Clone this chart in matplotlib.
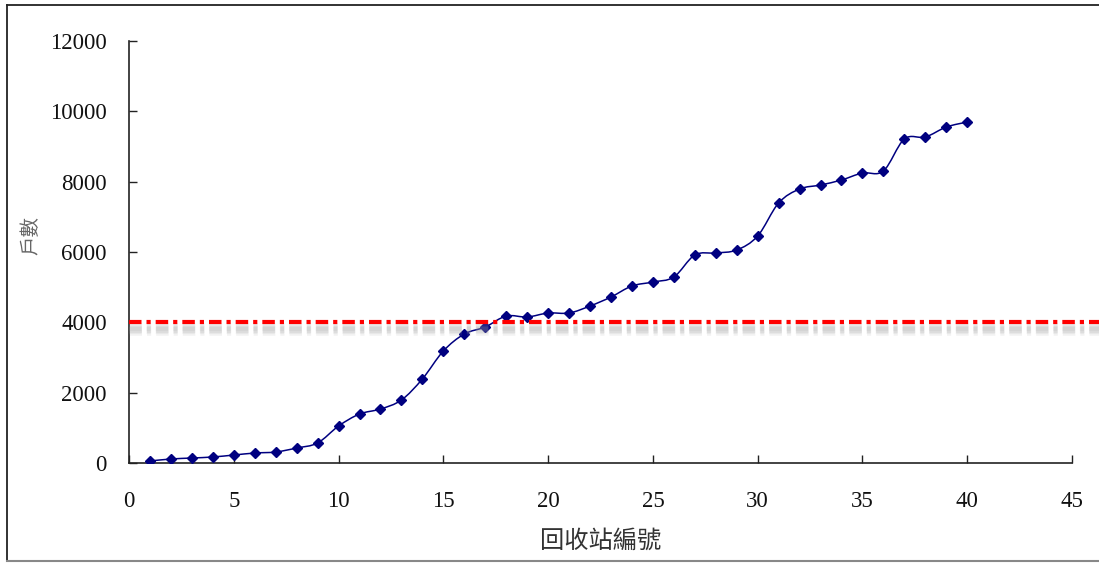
import numpy as np
from matplotlib import pyplot as plt
from matplotlib.path import Path
from matplotlib.patches import PathPatch
from matplotlib.lines import Line2D
import matplotlib.patheffects as pe

station = list(range(1, 41))
households = [
    57, 114, 142, 171, 227, 284, 313, 426, 569, 1052,
    1393, 1535, 1791, 2390, 3185, 3668, 3867, 4180, 4151, 4265,
    4265, 4464, 4720, 5033, 5146, 5289, 5914, 5971, 6056, 6454,
    7393, 7791, 7905, 8047, 8246, 8303, 9212, 9269, 9553, 9696,
]
threshold = 4000
x_ticks = [0, 5, 10, 15, 20, 25, 30, 35, 40, 45]
y_ticks = [0, 2000, 4000, 6000, 8000, 10000, 12000]

line_color = "#000080"
limit_color = "#FF0000"
tick_font = "Liberation Serif"
cjk_font = ["Noto Sans CJK TC", "DejaVu Sans"]


def smooth_path(xs, ys):
    # Excel style smoothed line: cubic bezier through every point
    pts = np.column_stack([xs, ys]).astype(float)
    verts = [pts[0]]
    codes = [Path.MOVETO]
    n = len(pts)
    for i in range(n - 1):
        p0 = pts[max(i - 1, 0)]
        p1 = pts[i]
        p2 = pts[i + 1]
        p3 = pts[min(i + 2, n - 1)]
        c1 = p1 + (p2 - p0) / 6.0
        c2 = p2 - (p3 - p1) / 6.0
        verts += [c1, c2, p2]
        codes += [Path.CURVE4] * 3
    return Path(verts, codes)


fig = plt.figure(figsize=(10.99, 5.63), dpi=100)
ax = fig.add_axes([0.1174, 0.1776, 0.858, 0.7496])

ax.add_patch(PathPatch(smooth_path(station, households), facecolor="none",
                       edgecolor=line_color, lw=1.1, zorder=3))
ax.plot(station, households, linestyle="none", marker="D", ms=5.5,
        color=line_color, zorder=4)

red = ax.axhline(threshold, xmin=0, xmax=1.03, color=limit_color, lw=3,
                 clip_on=False, zorder=5)
red.set_dashes([3, 1.2, 1, 1.2])
# soft grey shadow under the limit line
shadow = [pe.SimpleLineShadow(offset=(0, -5), shadow_color="#999999",
                              alpha=0.12, linewidth=w) for w in (9, 7, 5, 3)]
red.set_path_effects(shadow + [pe.Normal()])

ax.set_xlim(0, 45)
ax.set_ylim(0, 12000)
ax.set_xticks(x_ticks)
ax.set_yticks(y_ticks)
for s in ["top", "right"]:
    ax.spines[s].set_visible(False)
for s in ["left", "bottom"]:
    ax.spines[s].set_linewidth(1.2)
    ax.spines[s].set_color("#222222")
ax.tick_params(direction="in", length=6, width=1, color="#222222",
               labelsize=16.5, labelcolor="#111111")
ax.tick_params(axis="y", pad=16)
ax.tick_params(axis="x", pad=20)
for lab in ax.get_xticklabels() + ax.get_yticklabels():
    lab.set_fontfamily(tick_font)

ax.set_xlabel("回收站編號", family=cjk_font, fontsize=17.5, color="#333333")
ax.xaxis.set_label_coords(0.5, -0.153)
ax.set_ylabel("戶數", family=cjk_font, fontsize=14, color="#666666")
ax.yaxis.set_label_coords(-0.093, 0.54)

# figure border (left, top, bottom)
fig.add_artist(Line2D([0.0064, 0.0064], [0.004, 0.991], color="#222222", lw=1.3))
fig.add_artist(Line2D([0.0064, 1.0], [0.991, 0.991], color="#222222", lw=1.3))
fig.add_artist(Line2D([0.0064, 1.0], [0.004, 0.004], color="#888888", lw=1.5))

fig.savefig("out.png", dpi=100)
